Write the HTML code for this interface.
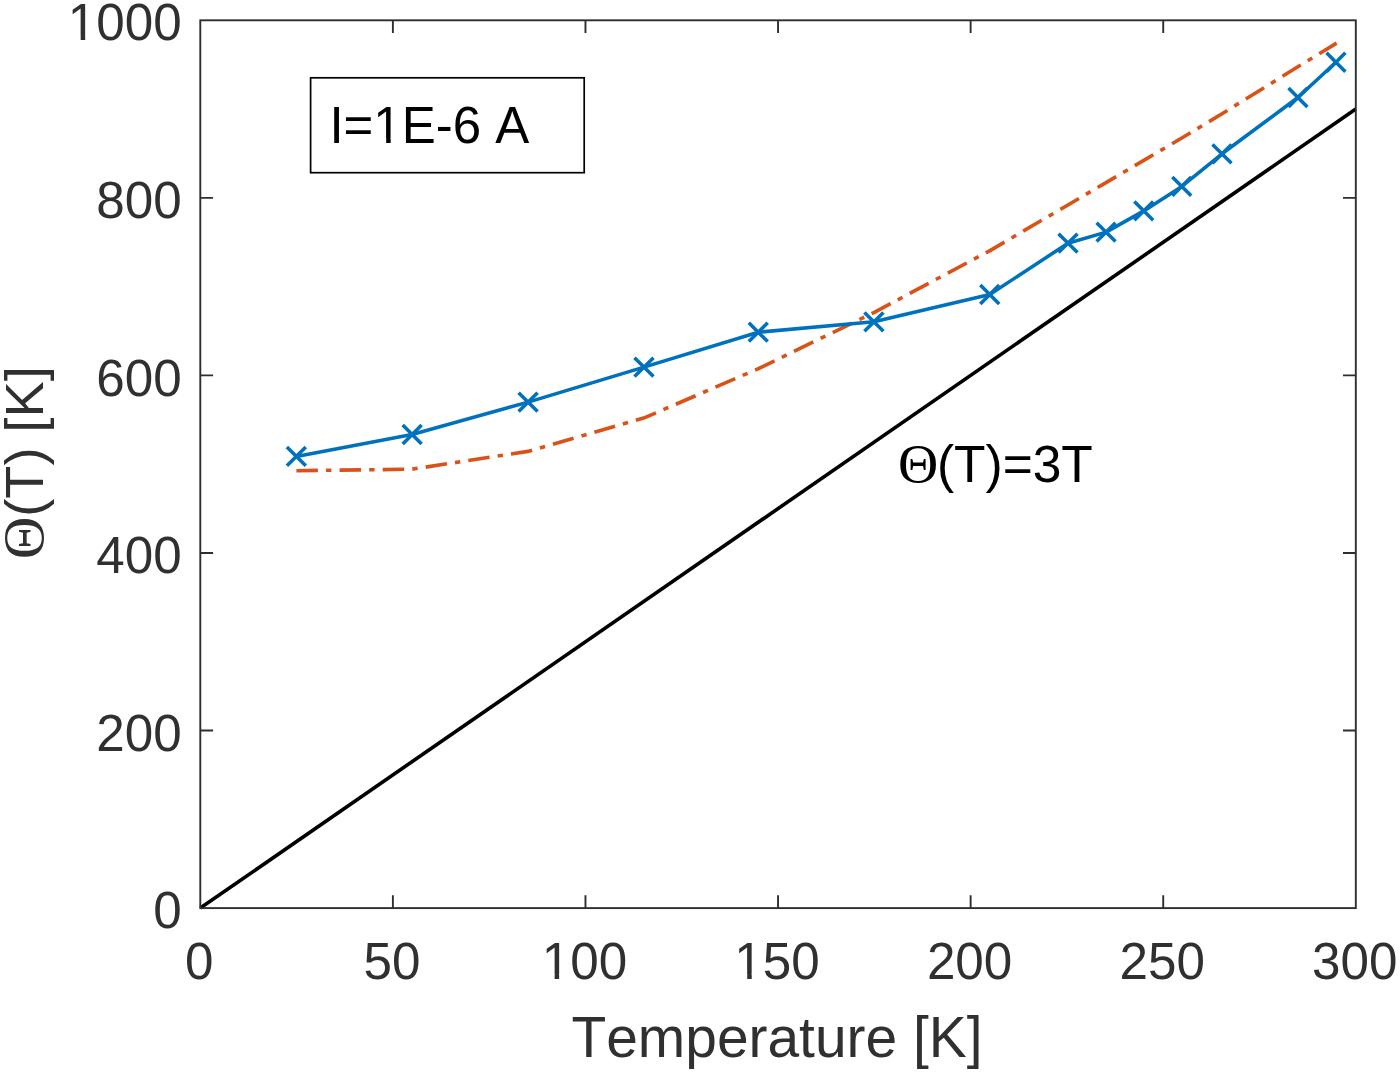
<!DOCTYPE html>
<html lang="en"><head><meta charset="utf-8"><title>Theta(T) plot</title>
<style>html,body{margin:0;padding:0;background:#fff}body{width:1400px;height:1072px;overflow:hidden}svg{display:block}text{font-family:"Liberation Sans",Arial,Helvetica,sans-serif;font-kerning:none}.tk{font-size:51.2px;fill:#303030}.lb{font-size:56.9px;fill:#303030}.an{font-size:51.5px;fill:#000}.sy{font-family:"Liberation Serif","DejaVu Serif",serif;font-size:55.7px}</style></head><body>
<svg width="1400" height="1072" viewBox="0 0 1400 1072">
<rect x="0" y="0" width="1400" height="1072" fill="#fff"/>
<path d="M200.3 908.1 L1355.8 109.08" stroke="#000" stroke-width="3.6" fill="none"/>
<path d="M296.4 470.7 L412.0 469.2 L527.9 451.4 L643.6 418.1 L757.9 368.9 L873.8 312.6 L990.0 250.6 L1067.5 205.2 L1106.0 182.6 L1144.6 159.9 L1183.1 137.3 L1221.6 114.0 L1298.7 66.3 L1336.6 43.1" stroke="#D95319" stroke-width="3.6" fill="none" stroke-dasharray="21.5 8.15 5.35 8.15" stroke-linejoin="round"/>
<path d="M296.3 456.4 L412.1 434.5 L528.1 402.1 L644.0 367.1 L758.2 332.2 L873.9 321.8 L989.8 294.5 L1068.0 243.2 L1106.1 232.1 L1143.8 210.9 L1181.8 186.4 L1222.0 153.8 L1297.9 97.5 L1335.9 62.3" stroke="#0072BD" stroke-width="3.55" fill="none" stroke-linejoin="round"/>
<path d="M286.9 446.9L305.8 465.8M286.9 465.8L305.8 446.9M402.7 425.1L421.6 443.9M402.7 443.9L421.6 425.1M518.6 392.7L537.6 411.6M518.6 411.6L537.6 392.7M634.5 357.7L653.5 376.6M634.5 376.6L653.5 357.7M748.8 322.8L767.7 341.6M748.8 341.6L767.7 322.8M864.4 312.4L883.4 331.2M864.4 331.2L883.4 312.4M980.3 285.1L999.2 303.9M980.3 303.9L999.2 285.1M1058.5 233.8L1077.5 252.6M1058.5 252.6L1077.5 233.8M1096.6 222.7L1115.5 241.5M1096.6 241.5L1115.5 222.7M1134.3 201.5L1153.2 220.3M1134.3 220.3L1153.2 201.5M1172.3 177.0L1191.2 195.8M1172.3 195.8L1191.2 177.0M1212.5 144.4L1231.5 163.2M1212.5 163.2L1231.5 144.4M1288.5 88.0L1307.4 107.0M1288.5 107.0L1307.4 88.0M1326.5 52.8L1345.4 71.8M1326.5 71.8L1345.4 52.8" stroke="#0072BD" stroke-width="3.55" fill="none"/>
<rect x="200.3" y="20.3" width="1155.5" height="887.8000000000001" fill="none" stroke="#2e2e2e" stroke-width="1.9"/>
<path d="M392.88 908.1V895.3000000000001M392.88 20.3V33.1M585.47 908.1V895.3000000000001M585.47 20.3V33.1M778.05 908.1V895.3000000000001M778.05 20.3V33.1M970.63 908.1V895.3000000000001M970.63 20.3V33.1M1163.22 908.1V895.3000000000001M1163.22 20.3V33.1M200.3 730.54H213.10000000000002M1355.8 730.54H1343.0M200.3 552.98H213.10000000000002M1355.8 552.98H1343.0M200.3 375.42H213.10000000000002M1355.8 375.42H1343.0M200.3 197.86H213.10000000000002M1355.8 197.86H1343.0" stroke="#2e2e2e" stroke-width="1.9" fill="none"/>
<text class="tk" x="199.3" y="978.9" text-anchor="middle">0</text>
<text class="tk" x="391.9" y="978.9" text-anchor="middle">50</text>
<text class="tk" x="584.5" y="978.9" text-anchor="middle">100</text>
<rect x="544.75" y="974.17" width="9.88" height="5.62" fill="#fff"/>
<rect x="559.15" y="974.17" width="9.47" height="5.62" fill="#fff"/>
<text class="tk" x="777.0" y="978.9" text-anchor="middle">150</text>
<rect x="737.34" y="974.17" width="9.88" height="5.62" fill="#fff"/>
<rect x="751.74" y="974.17" width="9.47" height="5.62" fill="#fff"/>
<text class="tk" x="969.6" y="978.9" text-anchor="middle">200</text>
<text class="tk" x="1162.2" y="978.9" text-anchor="middle">250</text>
<text class="tk" x="1354.8" y="978.9" text-anchor="middle">300</text>
<text class="tk" x="181.7" y="928.2" text-anchor="end">0</text>
<text class="tk" x="181.7" y="750.6" text-anchor="end">200</text>
<text class="tk" x="181.7" y="573.1" text-anchor="end">400</text>
<text class="tk" x="181.7" y="395.5" text-anchor="end">600</text>
<text class="tk" x="181.7" y="218.0" text-anchor="end">800</text>
<text class="tk" x="181.7" y="40.4" text-anchor="end">1000</text>
<rect x="70.80" y="35.67" width="9.88" height="5.62" fill="#fff"/>
<rect x="85.20" y="35.67" width="9.47" height="5.62" fill="#fff"/>
<text class="lb" x="777" y="1056.9" text-anchor="middle">Temperature [K]</text>
<text class="lb" style="font-size:53.2px" transform="translate(43.1 462.8) rotate(-90) scale(1.018 1)" text-anchor="middle"><tspan class="sy" style="font-size:58px">Θ</tspan>(T) [K]</text>
<text class="an" y="481.7"><tspan class="sy" x="897.9">Θ</tspan><tspan x="936.9">(T)=3T</tspan></text>
<rect x="310.6" y="77.8" width="273.6" height="94.9" fill="#fff" stroke="#000" stroke-width="1.7"/>
<text class="an" style="font-size:51px" x="329.4" y="143">I=1E-6 A</text>
<rect x="376.34" y="138.29" width="9.84" height="5.61" fill="#fff"/>
<rect x="390.68" y="138.29" width="9.44" height="5.61" fill="#fff"/>
</svg></body></html>
